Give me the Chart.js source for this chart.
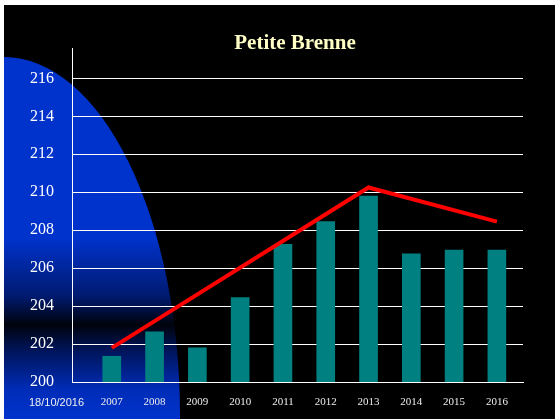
<!DOCTYPE html>
<html>
<head>
<meta charset="utf-8">
<title>Petite Brenne</title>
<script src="https://cdn.jsdelivr.net/npm/chart.js@4/dist/chart.umd.min.js"></script>
<style>
    html, body { margin: 0; padding: 0; background: #fff; overflow: hidden; }
    body { width: 555px; height: 419px; position: relative; }
    #slide { position: absolute; left: 4px; top: 5px; width: 551px; height: 414px; background: #000; }
    #chart { position: absolute; left: 0; top: 0; }
    .title {
        position: absolute; left: -4px; top: 27px; width: 590px;
        text-align: center; font: bold 21px "Liberation Serif", "Times New Roman", serif;
        line-height: 21px; color: #ffffc6;
    }
    .date {
        position: absolute; left: 25px; top: 391px;
        font: 11px "Liberation Sans", Arial, sans-serif; line-height: 13px; color: #f0f0f0;
    }
</style>
</head>
<body>
<div id="slide">
    <canvas id="chart" width="551" height="414"></canvas>
    <div class="title">Petite Brenne</div>
    <div class="date">18/10/2016</div>
</div>
<script>
// yearly values
const years = [2007, 2008, 2009, 2010, 2011, 2012, 2013, 2014, 2015, 2016];
const values = [201.35, 202.65, 201.8, 204.45, 207.25, 208.45, 209.8, 206.75, 206.95, 206.95];

// trend line: rise to 2013, then decline
const trendYears = [2007, 2013, 2016];
const trendValues = [201.8, 210.25, 208.45];

const yTicks = [200, 202, 204, 206, 208, 210, 212, 214, 216];

// blue rounded shape on the left of the slide
const backdrop = {
    id: 'backdrop',
    beforeDraw(chart) {
        const ctx = chart.ctx;
        ctx.save();
        const g = ctx.createLinearGradient(0, 52, 0, 414);
        g.addColorStop(0, '#0033cc');
        g.addColorStop(0.50, '#0033cc');
        g.addColorStop(0.66, '#001a70');
        g.addColorStop(0.74, '#00030c');
        g.addColorStop(0.80, '#001250');
        g.addColorStop(0.92, '#002cb8');
        g.addColorStop(1, '#0033cc');
        ctx.fillStyle = g;
        ctx.beginPath();
        ctx.moveTo(0, 410);
        ctx.ellipse(0, 410, 176, 358, 0, -Math.PI / 2, Math.PI / 2);
        ctx.closePath();
        ctx.fill();
        ctx.restore();
    }
};

new Chart(document.getElementById('chart'), {
    data: {
        datasets: [
            {
                type: 'line',
                data: trendYears.map((x, i) => ({ x, y: trendValues[i] })),
                borderColor: '#ff0000',
                borderWidth: 4,
                pointRadius: 0,
                tension: 0,
                order: 1
            },
            {
                type: 'bar',
                data: years.map((x, i) => ({ x, y: values[i] })),
                backgroundColor: '#008080',
                barThickness: 18,
                order: 2
            }
        ]
    },
    options: {
        responsive: false,
        animation: false,
        devicePixelRatio: 1,
        layout: { padding: { top: 43, right: 32, bottom: 0, left: 0 } },
        plugins: { legend: { display: false }, tooltip: { enabled: false } },
        scales: {
            x: {
                type: 'linear',
                offset: false,
                min: 2006.07,
                max: 2016.61,
                afterBuildTicks: axis => { axis.ticks = years.map(v => ({ value: v })); },
                afterFit: axis => { axis.height = 37; },
                grid: { display: false },
                border: { color: '#fff', width: 1 },
                ticks: {
                    color: '#ececec',
                    padding: 6,
                    maxRotation: 0,
                    autoSkip: false,
                    font: { family: 'Liberation Serif', size: 11 },
                    callback: v => String(v)
                }
            },
            y: {
                min: 200,
                max: 217.6,
                afterBuildTicks: axis => { axis.ticks = yTicks.map(v => ({ value: v })); },
                afterFit: axis => { axis.width = 68; },
                grid: { color: '#fff', lineWidth: 1, drawTicks: false },
                border: { color: '#fff', width: 1 },
                ticks: {
                    color: '#fff',
                    padding: 18,
                    font: { family: 'Liberation Serif', size: 16 }
                }
            }
        }
    },
    plugins: [backdrop]
});
</script>
</body>
</html>
